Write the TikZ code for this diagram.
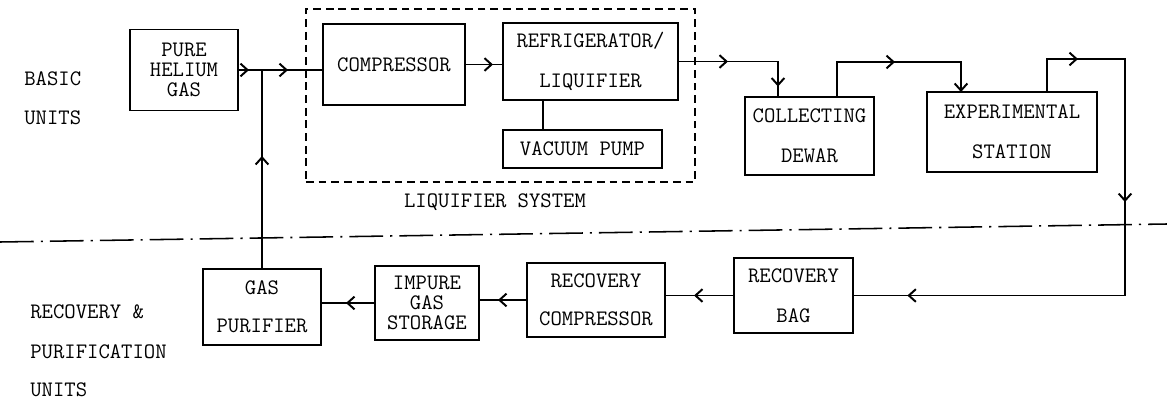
\documentclass[tikz,border=0pt]{standalone}
\usepackage{fontspec}
\usetikzlibrary{arrows.meta, decorations.markings, fit}

\tikzset{
  unit/.style={draw, line width=1.4pt, align=center, inner sep=0pt,
    font=\ttfamily\fontsize{15.7}{14.2}\selectfont},
  sidetext/.style={anchor=west, inner sep=0pt, font=\ttfamily\fontsize{15.7}{14.2}\selectfont},
  flow/.style={line width=1.4pt},
  arrowat/.style={postaction={decorate, decoration={markings,
    mark=at position #1 with {\arrow{Straight Barb[length=5pt, width=9pt]}}}}},
  sysbox/.style={draw, line width=1.4pt, dash pattern=on 5.5pt off 3.5pt},
  sepline/.style={line width=1.1pt, dash pattern=on 24pt off 5pt on 1.5pt off 5pt},
}

\begin{document}
\begin{tikzpicture}[x=0.025cm, y=-0.025cm, >={Straight Barb[length=5pt, width=9pt]}]
\useasboundingbox (0,0) rectangle (1167,401);

% --- side labels ---
\node (basic) at (24,79) [sidetext] {BASIC};
\node (basicunits) at (24,118) [sidetext] {UNITS};
\node (recovery) at (30,312) [sidetext] {RECOVERY \&};
\node (purification) at (30,352) [sidetext] {PURIFICATION};
\node (recunits) at (30,390) [sidetext] {UNITS};

% --- basic units ---
\node (helium) at (184,70) [unit, minimum width=2.7cm, minimum height=2.025cm] {PURE\\HELIUM\\GAS};
\node (comp) at (394,64.5) [unit, minimum width=3.55cm, minimum height=2.025cm] {COMPRESSOR};
\node (refr) at (590.5,61.5) [unit, minimum width=4.375cm, minimum height=1.925cm] {REFRIGERATOR/\\[14pt]LIQUIFIER};
\node (vac) at (582.5,149) [unit, minimum width=3.975cm, minimum height=0.95cm] {VACUUM PUMP};
\node (dewar) at (809.5,136) [unit, minimum width=3.225cm, minimum height=1.95cm] {COLLECTING\\[14pt]DEWAR};
\node (station) at (1012,132) [unit, minimum width=4.25cm, minimum height=2cm] {EXPERIMENTAL\\[14pt]STATION};

\node (liqsys) [sysbox, fit=(comp)(refr)(vac), inner xsep=0.4cm, inner ysep=0.33cm] {};
\node (liqlabel) at (495,202) [font=\ttfamily\fontsize{15.7}{14.2}\selectfont] {LIQUIFIER SYSTEM};

% --- recovery & purification units ---
\node (purifier) at (262,307) [unit, minimum width=2.95cm, minimum height=1.9cm] {GAS\\[13pt]PURIFIER};
\node (impure) at (427,303) [unit, minimum width=2.6cm, minimum height=1.85cm] {IMPURE\\GAS\\STORAGE};
\node (reccomp) at (596,300) [unit, minimum width=3.45cm, minimum height=1.85cm] {RECOVERY\\[13pt]COMPRESSOR};
\node (bag) at (793.5,295.5) [unit, minimum width=2.975cm, minimum height=1.875cm] {RECOVERY\\[14pt]BAG};

% --- separator ---
\draw[sepline] (0,242) -- (1167,224);

% --- flow lines ---
\coordinate (junc) at (262,70);
\coordinate (vactap) at (543,100);
\coordinate (dewarin) at (778,97);
\coordinate (dewarout) at (837,97);
\coordinate (stationin) at (961,92);
\coordinate (stationout) at (1047,92);

\draw[flow, arrowat=0.25cm, arrowat=1.225cm] (helium.east) -- (helium.east -| comp.west);
\draw[flow, arrowat=0.675cm] (comp) -- (comp -| refr.west);
\draw[flow] (vactap) -- (vactap |- vac.north);
\draw[flow, arrowat=1.225cm, arrowat=3.1cm] (refr.east) -| (dewarin);
\draw[flow, ->, arrowat=2.325cm] (dewarout) |- ++(124,-35) -- (stationin);
\draw[flow, arrowat=1.6cm, arrowat=6.35cm, arrowat=14.125cm] (stationout) |- ++(78,-33) |- (bag.east);
\draw[flow, arrowat=0.975cm] (bag.west) -- (bag.west -| reccomp.east);
\draw[flow, arrowat=0.7cm] (reccomp.west) -- (reccomp.west -| impure.east);
\draw[flow, arrowat=0.7cm] (impure.west) -- (impure.west -| purifier.east);
\draw[flow, arrowat=2.8cm] (purifier.north) -- (junc);
\end{tikzpicture}
\end{document}
